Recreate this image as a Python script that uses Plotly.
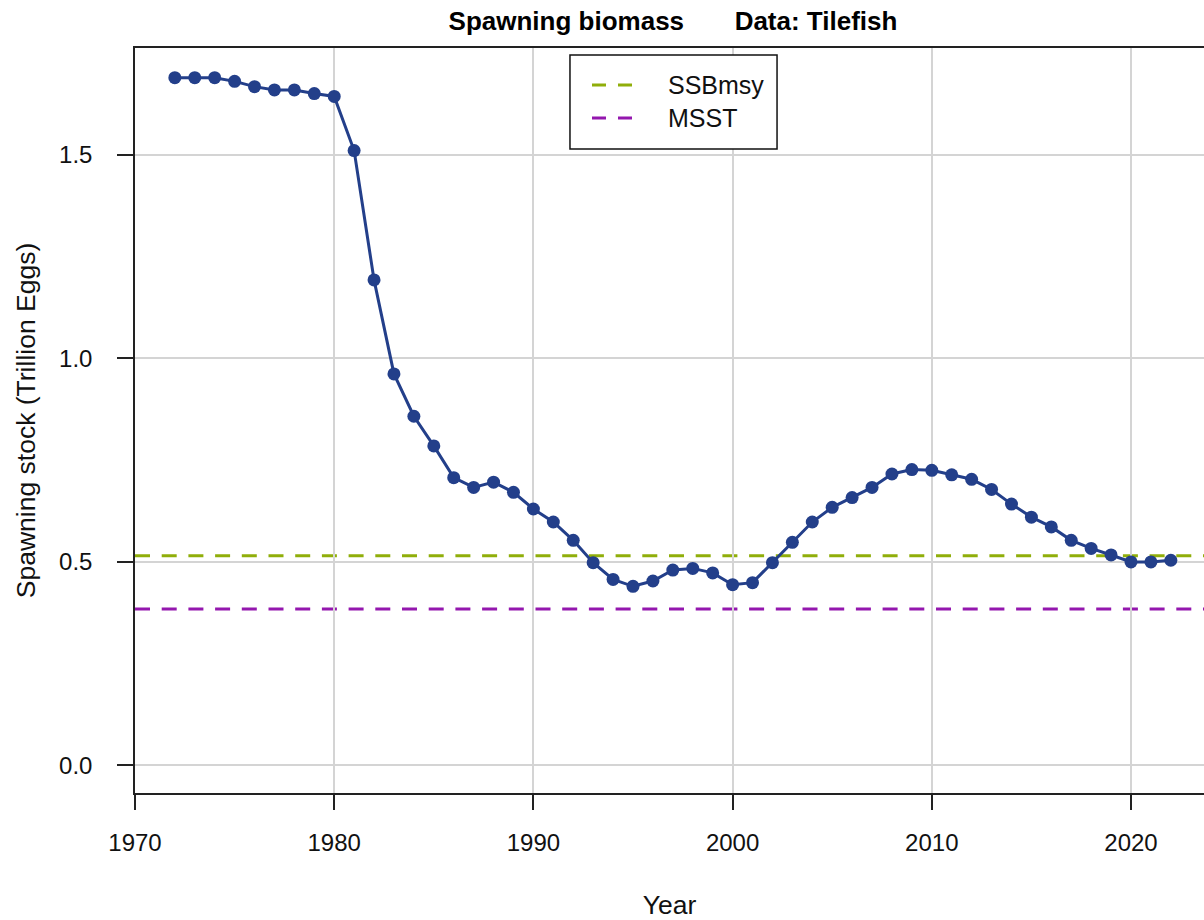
import plotly.graph_objects as go

years = list(range(1972, 2023))
ssb = [1.690, 1.690, 1.690, 1.681, 1.668, 1.660, 1.660, 1.651, 1.644,
       1.511, 1.193, 0.962, 0.858, 0.785, 0.707, 0.683, 0.696, 0.671, 0.630,
       0.598, 0.553, 0.498, 0.457, 0.440, 0.453, 0.480, 0.484, 0.473, 0.444,
       0.449, 0.498, 0.548, 0.598, 0.634, 0.658, 0.683, 0.716, 0.727, 0.725,
       0.714, 0.703, 0.678, 0.642, 0.610, 0.586, 0.553, 0.533, 0.517, 0.500,
       0.500, 0.504]
ssbmsy = 0.515
msst = 0.384
x_ticks = [1970, 1980, 1990, 2000, 2010, 2020]
y_ticks = [0.0, 0.5, 1.0, 1.5]
ref_names = ["SSBmsy", "MSST"]
ref_values = [ssbmsy, msst]
ref_colors = ["#90ae0a", "#9417ae"]

FONT = "Liberation Sans, Arial, sans-serif"
line_col = "#233f8a"

W, H = 1204, 920
L, T, B = 135, 48, 127

fig = go.Figure()
fig.add_trace(go.Scatter(
    x=years, y=ssb, mode="lines+markers", name="SSB",
    line=dict(color=line_col, width=3),
    marker=dict(color=line_col, size=13, symbol="circle"),
    showlegend=False, cliponaxis=False,
))

# reference lines (abline style)
for nm, val, col in zip(ref_names, ref_values, ref_colors):
    fig.add_shape(type="line", xref="paper", x0=0, x1=1, yref="y", y0=val, y1=val,
                  line=dict(color=col, width=3, dash="15px,11.7px"), layer="below")

# legend box drawn manually to match base-R legend
lx0, lx1, ly0, ly1 = 0.4069, 0.6006, 0.8644, 0.9906
fig.add_shape(type="rect", xref="paper", yref="paper", x0=lx0, x1=lx1, y0=ly0, y1=ly1,
              line=dict(color="#111111", width=1.5), fillcolor="white", layer="above")
row_y = [0.9503, 0.9060]
for nm, col, ry in zip(ref_names, ref_colors, row_y):
    fig.add_shape(type="line", xref="paper", yref="paper", x0=0.4275, x1=0.4659, y0=ry, y1=ry,
                  line=dict(color=col, width=3, dash="14px,12px"), layer="above")
    fig.add_annotation(text=nm, xref="paper", yref="paper", x=0.4967, y=ry,
                       xanchor="left", yanchor="middle", showarrow=False,
                       font=dict(family=FONT, size=25, color="#111111"))

fig.update_layout(
    width=W, height=H,
    margin=dict(l=L, r=0, t=T, b=B),
    paper_bgcolor="white", plot_bgcolor="white",
    showlegend=False,
    title=dict(text="<b>Spawning biomass" + "\u00a0" * 7 + "Data: Tilefish</b>",
               x=673 / W, xref="container", xanchor="center",
               y=1 - 21 / H, yref="container", yanchor="middle",
               font=dict(family=FONT, size=26, color="black")),
    font=dict(family=FONT, color="#111111"),
)

fig.update_xaxes(
    range=[1970, 1970 + (W - L) / 19.92], tickvals=x_ticks, ticktext=[str(v) for v in x_ticks],
    showgrid=True, gridcolor="#d4d4d4", gridwidth=2,
    showline=True, linecolor="#222222", linewidth=1.5, mirror=True,
    ticks="outside", ticklen=15, tickwidth=1.5, tickcolor="#222222",
    tickfont=dict(family=FONT, size=24, color="#111111"),
    ticklabelstandoff=12,
    zeroline=False,
    title=dict(text="Year", font=dict(family=FONT, size=26.5, color="#111111"), standoff=42),
)
fig.update_yaxes(
    range=[-0.068, 1.763], tickvals=y_ticks, ticktext=["%.1f" % v for v in y_ticks],
    showgrid=True, gridcolor="#d4d4d4", gridwidth=2,
    showline=True, linecolor="#222222", linewidth=1.5, mirror=False,
    ticks="outside", ticklen=16, tickwidth=1.5, tickcolor="#222222",
    tickfont=dict(family=FONT, size=24, color="#111111"),
    ticklabelstandoff=20,
    zeroline=False,
    title=dict(text="Spawning stock (Trillion Eggs)", font=dict(family=FONT, size=26.5, color="#111111"), standoff=16),
)

fig.write_html("out.html", config={"displayModeBar": False},
               post_script="document.body.style.margin='0px';")
